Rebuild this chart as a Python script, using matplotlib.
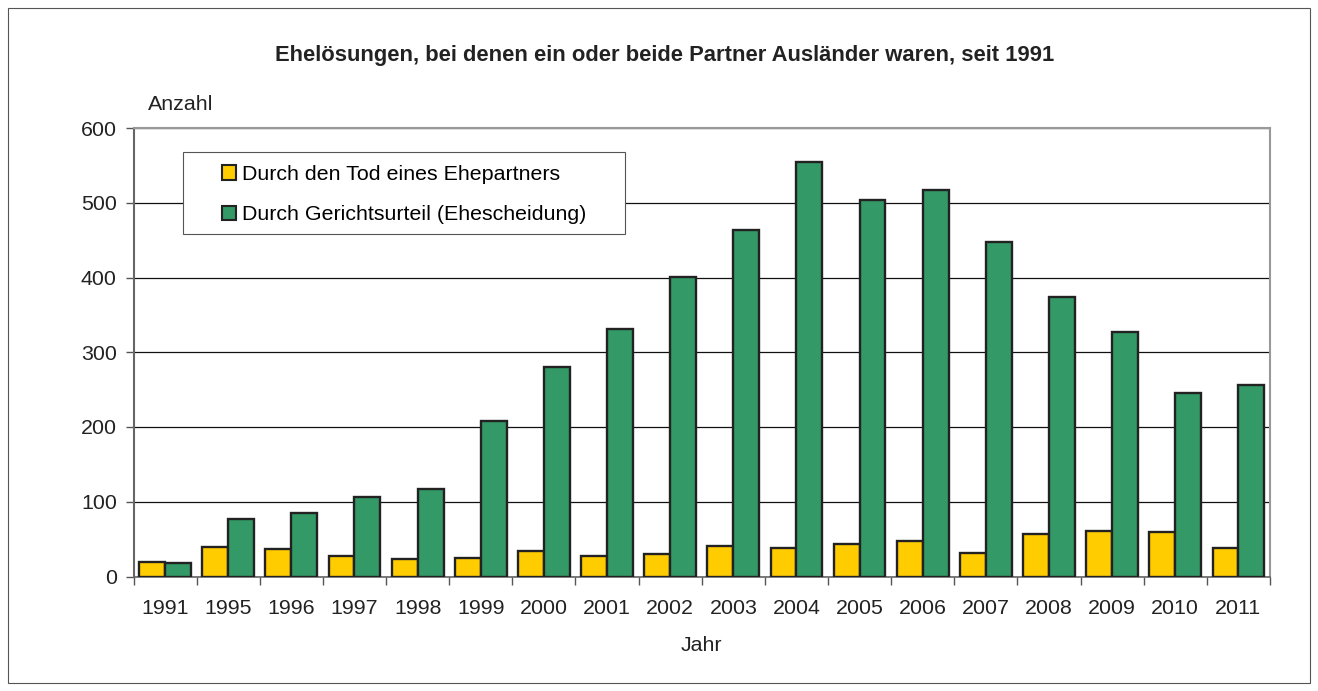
import matplotlib
matplotlib.use("Agg")
import matplotlib.pyplot as plt
from matplotlib.patches import Rectangle, Patch
import numpy as np

plt.rcParams['font.family'] = ['Liberation Sans', 'DejaVu Sans']

years = ["1991", "1995", "1996", "1997", "1998", "1999", "2000", "2001", "2002",
         "2003", "2004", "2005", "2006", "2007", "2008", "2009", "2010", "2011"]
tod = [19, 40, 37, 28, 24, 25, 34, 28, 30, 41, 38, 43, 47, 31, 57, 61, 60, 38]
gericht = [18, 77, 85, 107, 117, 208, 280, 331, 401, 463, 554, 504, 517, 447,
           374, 327, 245, 256]
yticks = [0, 100, 200, 300, 400, 500, 600]

title = "Ehelösungen, bei denen ein oder beide Partner Ausländer waren, seit 1991"
label_tod = "Durch den Tod eines Ehepartners"
label_ger = "Durch Gerichtsurteil (Ehescheidung)"

W, H = 1318, 691
FS = 15.4
fig = plt.figure(figsize=(W / 100, H / 100), dpi=100)
fig.patch.set_facecolor("white")

def fx(px):
    return px / W

def fy(py):
    return 1 - py / H

# outer frame
fig.patches.append(Rectangle((fx(8), fy(683)), (1310 - 8) / W, (683 - 8) / H,
                             transform=fig.transFigure, fill=False,
                             edgecolor="#555555", linewidth=0.8))

left, right, top, bottom = 133.5, 1270, 128, 576.5
ax = fig.add_axes([fx(left), fy(bottom), (right - left) / W, (bottom - top) / H])

x = np.arange(len(years))
bw = 0.41
yellow = "#FFCC00"
green = "#339966"
edge = "#222222"
ax.bar(x - bw / 2, tod, width=bw, color=yellow, edgecolor=edge, linewidth=1.7, zorder=3)
ax.bar(x + bw / 2, gericht, width=bw, color=green, edgecolor=edge, linewidth=1.7, zorder=3)

ax.set_xlim(-0.5, len(years) - 0.5)
ax.set_ylim(0, 600)
ax.set_yticks(yticks)
ax.set_yticklabels([str(v) for v in yticks])
ax.yaxis.grid(True, color="#111111", linewidth=0.9, zorder=0)
ax.set_axisbelow(True)

ax.set_xticks(np.arange(-0.5, len(years), 1.0))
ax.set_xticklabels([])
ax.set_xticks(x, minor=True)
ax.set_xticklabels(years, minor=True)
ax.tick_params(axis="x", which="major", length=6, width=1, color="#555555", direction="out")
ax.tick_params(axis="x", which="minor", length=0, pad=16, labelsize=FS, labelcolor="#222222")
ax.tick_params(axis="y", length=6, width=1, color="#555555", direction="out",
               pad=6, labelsize=FS, labelcolor="#222222")

ax.spines["left"].set_color("#666666")
ax.spines["left"].set_linewidth(1.5)
ax.spines["bottom"].set_color("#666666")
ax.spines["bottom"].set_linewidth(1.2)
ax.spines["top"].set_color("#999999")
ax.spines["top"].set_linewidth(1.5)
ax.spines["right"].set_color("#999999")
ax.spines["right"].set_linewidth(1.5)

fig.text(fx(665), fy(55), title, ha="center", va="center",
         fontsize=15.8, fontweight="bold", color="#222222")
fig.text(fx(148), fy(104), "Anzahl", ha="left", va="center",
         fontsize=FS, color="#222222")
ax.set_xlabel("Jahr", fontsize=FS, color="#222222", labelpad=13)

# legend box
fig.patches.append(Rectangle((fx(183), fy(234)), (625 - 183) / W, (234 - 152) / H,
                             transform=fig.transFigure, facecolor="white",
                             edgecolor="#555555", linewidth=0.8, zorder=4))
handles = [Patch(facecolor=yellow, edgecolor=edge, linewidth=1.5, label=label_tod),
           Patch(facecolor=green, edgecolor=edge, linewidth=1.5, label=label_ger)]
leg = fig.legend(handles=handles, loc="upper left",
                 bbox_to_anchor=(fx(222), fy(165)),
                 fontsize=FS, frameon=False, borderpad=0,
                 handlelength=0.65, handleheight=0.65, handletextpad=0.3,
                 labelspacing=1.0, borderaxespad=0)
leg.set_zorder(6)

fig.savefig("out.png", dpi=100, facecolor="white")
